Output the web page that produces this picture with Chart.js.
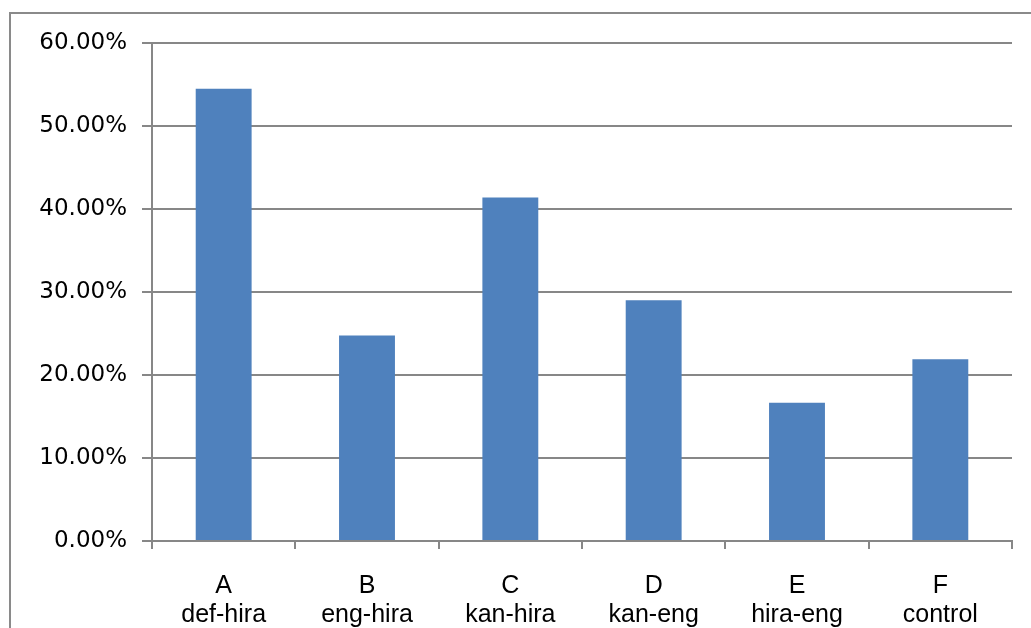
<!DOCTYPE html>
<html>
<head>
    <title>Response rate by condition</title>
    <script src="https://cdn.jsdelivr.net/npm/chart.js"></script>
    <style>
        body { margin: 0; background: white; overflow: hidden; }
        .frame { position: absolute; left: 9px; top: 12px; width: 1060px; height: 660px; border: 2px solid #8a8a8a; }
        .chart-box { position: absolute; left: 0; top: 0; width: 1031px; height: 628px; }
    </style>
</head>
<body>
    <div class="frame"></div>
    <div class="chart-box">
        <canvas id="barChart" width="1031" height="628"></canvas>
    </div>

    <script>
        // ===== DATA =====
        const groups = ['A', 'B', 'C', 'D', 'E', 'F'];
        const conditions = ['def-hira', 'eng-hira', 'kan-hira', 'kan-eng', 'hira-eng', 'control'];
        const rates = [0.545, 0.2475, 0.414, 0.29, 0.1667, 0.219];
        const yTicks = [0, 0.1, 0.2, 0.3, 0.4, 0.5, 0.6];

        const gridGrey = '#878787';

        new Chart(document.getElementById('barChart'), {
            type: 'bar',
            data: {
                labels: groups.map((g, i) => [g, conditions[i]]),
                datasets: [{
                    data: rates,
                    backgroundColor: '#4f81bd',
                    barPercentage: 0.39,
                    categoryPercentage: 1
                }]
            },
            options: {
                responsive: false,
                animation: false,
                layout: { padding: { left: 0, top: 43, right: 19, bottom: 0 } },
                plugins: { legend: { display: false }, tooltip: { enabled: false } },
                scales: {
                    x: {
                        grid: { drawOnChartArea: false, drawTicks: true, tickLength: 8, color: gridGrey, lineWidth: 2, offset: true },
                        border: { color: gridGrey, width: 2 },
                        ticks: { color: '#000', padding: 23, font: { family: 'Liberation Sans', size: 25, lineHeight: 1.16 }, maxRotation: 0 },
                        afterFit: s => { s.height = 87; }
                    },
                    y: {
                        min: 0,
                        max: 0.6,
                        afterBuildTicks: s => { s.ticks = yTicks.map(v => ({ value: v })); },
                        grid: { color: gridGrey, lineWidth: 2, tickLength: 10 },
                        border: { color: gridGrey, width: 2 },
                        ticks: {
                            color: '#000',
                            padding: 15,
                            font: { family: 'DejaVu Sans', size: 23 },
                            callback: v => (v * 100).toFixed(2) + '%'
                        },
                        afterFit: s => { s.width = 152; }
                    }
                }
            }
        });
    </script>
</body>
</html>
